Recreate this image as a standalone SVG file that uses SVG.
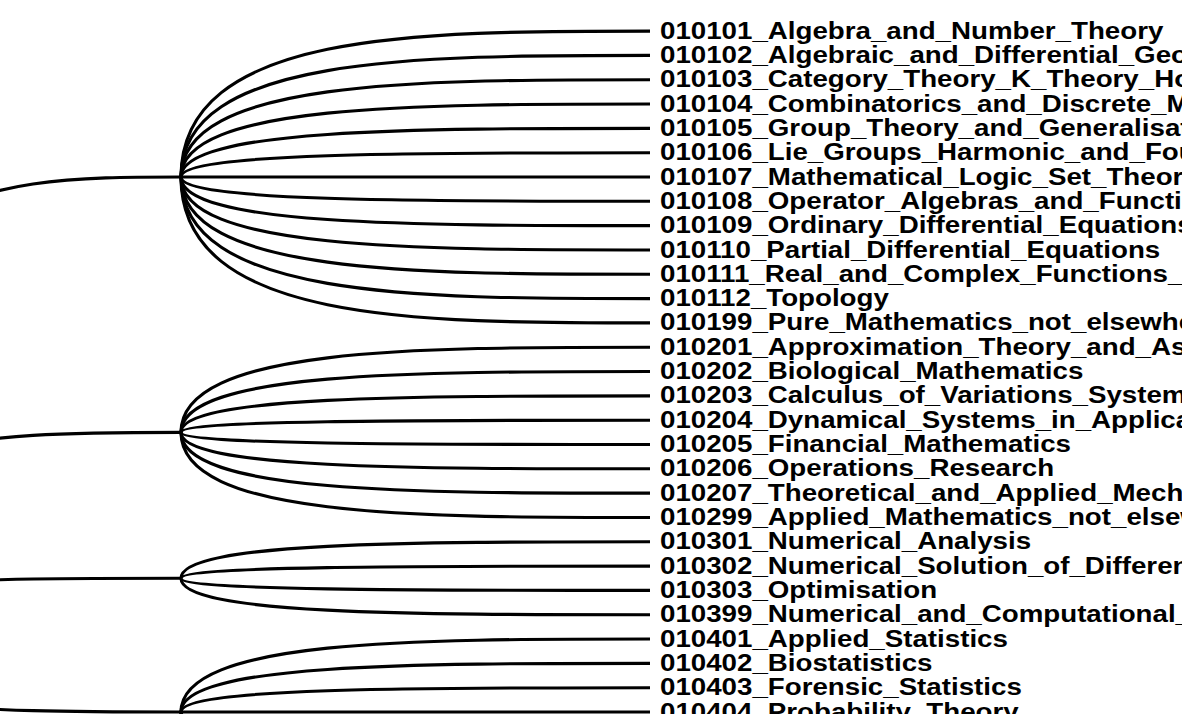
<svg xmlns="http://www.w3.org/2000/svg" width="1182" height="714" viewBox="0 0 1182 714">
<style>
.link{fill:none;stroke:#000;stroke-width:3.1}
.lbl{font-family:"Liberation Sans",Arial,Helvetica,sans-serif;font-weight:bold;font-size:24.2px;fill:#000}
</style>
<rect width="1182" height="714" fill="#fff"/>
<g id="links">
<path class="link" d="M-222,627C-222,177 -20.5,177 181,177"/>
<path class="link" d="M-222,627C-222,432.34 -20.5,432.34 181,432.34"/>
<path class="link" d="M-222,627C-222,578.24 -20.5,578.24 181,578.24"/>
<path class="link" d="M-222,627C-222,712 -20.5,712 181,712"/>
<path class="link" d="M181,177C181,31.09 415.5,31.09 650,31.09"/>
<path class="link" d="M181,177C181,55.41 415.5,55.41 650,55.41"/>
<path class="link" d="M181,177C181,79.73 415.5,79.73 650,79.73"/>
<path class="link" d="M181,177C181,104.04 415.5,104.04 650,104.04"/>
<path class="link" d="M181,177C181,128.36 415.5,128.36 650,128.36"/>
<path class="link" d="M181,177C181,152.68 415.5,152.68 650,152.68"/>
<path class="link" d="M181,177C181,177 415.5,177 650,177"/>
<path class="link" d="M181,177C181,201.32 415.5,201.32 650,201.32"/>
<path class="link" d="M181,177C181,225.63 415.5,225.63 650,225.63"/>
<path class="link" d="M181,177C181,249.95 415.5,249.95 650,249.95"/>
<path class="link" d="M181,177C181,274.27 415.5,274.27 650,274.27"/>
<path class="link" d="M181,177C181,298.59 415.5,298.59 650,298.59"/>
<path class="link" d="M181,177C181,322.91 415.5,322.91 650,322.91"/>
<path class="link" d="M181,432.34C181,347.22 415.5,347.22 650,347.22"/>
<path class="link" d="M181,432.34C181,371.54 415.5,371.54 650,371.54"/>
<path class="link" d="M181,432.34C181,395.86 415.5,395.86 650,395.86"/>
<path class="link" d="M181,432.34C181,420.18 415.5,420.18 650,420.18"/>
<path class="link" d="M181,432.34C181,444.5 415.5,444.5 650,444.5"/>
<path class="link" d="M181,432.34C181,468.81 415.5,468.81 650,468.81"/>
<path class="link" d="M181,432.34C181,493.13 415.5,493.13 650,493.13"/>
<path class="link" d="M181,432.34C181,517.45 415.5,517.45 650,517.45"/>
<path class="link" d="M181,578.24C181,541.77 415.5,541.77 650,541.77"/>
<path class="link" d="M181,578.24C181,566.09 415.5,566.09 650,566.09"/>
<path class="link" d="M181,578.24C181,590.4 415.5,590.4 650,590.4"/>
<path class="link" d="M181,578.24C181,614.72 415.5,614.72 650,614.72"/>
<path class="link" d="M181,712C181,639.04 415.5,639.04 650,639.04"/>
<path class="link" d="M181,712C181,663.36 415.5,663.36 650,663.36"/>
<path class="link" d="M181,712C181,687.68 415.5,687.68 650,687.68"/>
<path class="link" d="M181,712C181,712 415.5,712 650,712"/>
<path class="link" d="M181,712C181,736.31 415.5,736.31 650,736.31"/>
<path class="link" d="M181,712C181,760.63 415.5,760.63 650,760.63"/>
<path class="link" d="M181,712C181,784.95 415.5,784.95 650,784.95"/>
</g>
<g id="n010101"><text class="lbl" transform="translate(660,38.6) scale(1.145,1)">010101_Algebra_and_Number_Theory</text></g>
<g id="n010102"><text class="lbl" transform="translate(660,62.9) scale(1.145,1)">010102_Algebraic_and_Differential_Geometry</text></g>
<g id="n010103"><text class="lbl" transform="translate(660,87.2) scale(1.145,1)">010103_Category_Theory_K_Theory_Homological_Algebra</text></g>
<g id="n010104"><text class="lbl" transform="translate(660,111.5) scale(1.145,1)">010104_Combinatorics_and_Discrete_Mathematics</text></g>
<g id="n010105"><text class="lbl" transform="translate(660,135.9) scale(1.145,1)">010105_Group_Theory_and_Generalisations</text></g>
<g id="n010106"><text class="lbl" transform="translate(660,160.2) scale(1.145,1)">010106_Lie_Groups_Harmonic_and_Fourier_Analysis</text></g>
<g id="n010107"><text class="lbl" transform="translate(660,184.5) scale(1.145,1)">010107_Mathematical_Logic_Set_Theory</text></g>
<g id="n010108"><text class="lbl" transform="translate(660,208.8) scale(1.145,1)">010108_Operator_Algebras_and_Functional_Analysis</text></g>
<g id="n010109"><text class="lbl" transform="translate(660,233.1) scale(1.145,1)">010109_Ordinary_Differential_Equations</text></g>
<g id="n010110"><text class="lbl" transform="translate(660,257.5) scale(1.145,1)">010110_Partial_Differential_Equations</text></g>
<g id="n010111"><text class="lbl" transform="translate(660,281.8) scale(1.145,1)">010111_Real_and_Complex_Functions_</text></g>
<g id="n010112"><text class="lbl" transform="translate(660,306.1) scale(1.145,1)">010112_Topology</text></g>
<g id="n010199"><text class="lbl" transform="translate(660,330.4) scale(1.145,1)">010199_Pure_Mathematics_not_elsewhere_classified</text></g>
<g id="n010201"><text class="lbl" transform="translate(660,354.7) scale(1.145,1)">010201_Approximation_Theory_and_Asymptotic_Methods</text></g>
<g id="n010202"><text class="lbl" transform="translate(660,379.0) scale(1.145,1)">010202_Biological_Mathematics</text></g>
<g id="n010203"><text class="lbl" transform="translate(660,403.4) scale(1.145,1)">010203_Calculus_of_Variations_Systems_Theory</text></g>
<g id="n010204"><text class="lbl" transform="translate(660,427.7) scale(1.145,1)">010204_Dynamical_Systems_in_Applications</text></g>
<g id="n010205"><text class="lbl" transform="translate(660,452.0) scale(1.145,1)">010205_Financial_Mathematics</text></g>
<g id="n010206"><text class="lbl" transform="translate(660,476.3) scale(1.145,1)">010206_Operations_Research</text></g>
<g id="n010207"><text class="lbl" transform="translate(660,500.6) scale(1.145,1)">010207_Theoretical_and_Applied_Mechanics</text></g>
<g id="n010299"><text class="lbl" transform="translate(660,525.0) scale(1.145,1)">010299_Applied_Mathematics_not_elsewhere_classified</text></g>
<g id="n010301"><text class="lbl" transform="translate(660,549.3) scale(1.145,1)">010301_Numerical_Analysis</text></g>
<g id="n010302"><text class="lbl" transform="translate(660,573.6) scale(1.145,1)">010302_Numerical_Solution_of_Differential_and_Integral_Equations</text></g>
<g id="n010303"><text class="lbl" transform="translate(660,597.9) scale(1.145,1)">010303_Optimisation</text></g>
<g id="n010399"><text class="lbl" transform="translate(660,622.2) scale(1.145,1)">010399_Numerical_and_Computational_Mathematics</text></g>
<g id="n010401"><text class="lbl" transform="translate(660,646.5) scale(1.145,1)">010401_Applied_Statistics</text></g>
<g id="n010402"><text class="lbl" transform="translate(660,670.9) scale(1.145,1)">010402_Biostatistics</text></g>
<g id="n010403"><text class="lbl" transform="translate(660,695.2) scale(1.145,1)">010403_Forensic_Statistics</text></g>
<g id="n010404"><text class="lbl" transform="translate(660,719.5) scale(1.145,1)">010404_Probability_Theory</text></g>
</svg>
